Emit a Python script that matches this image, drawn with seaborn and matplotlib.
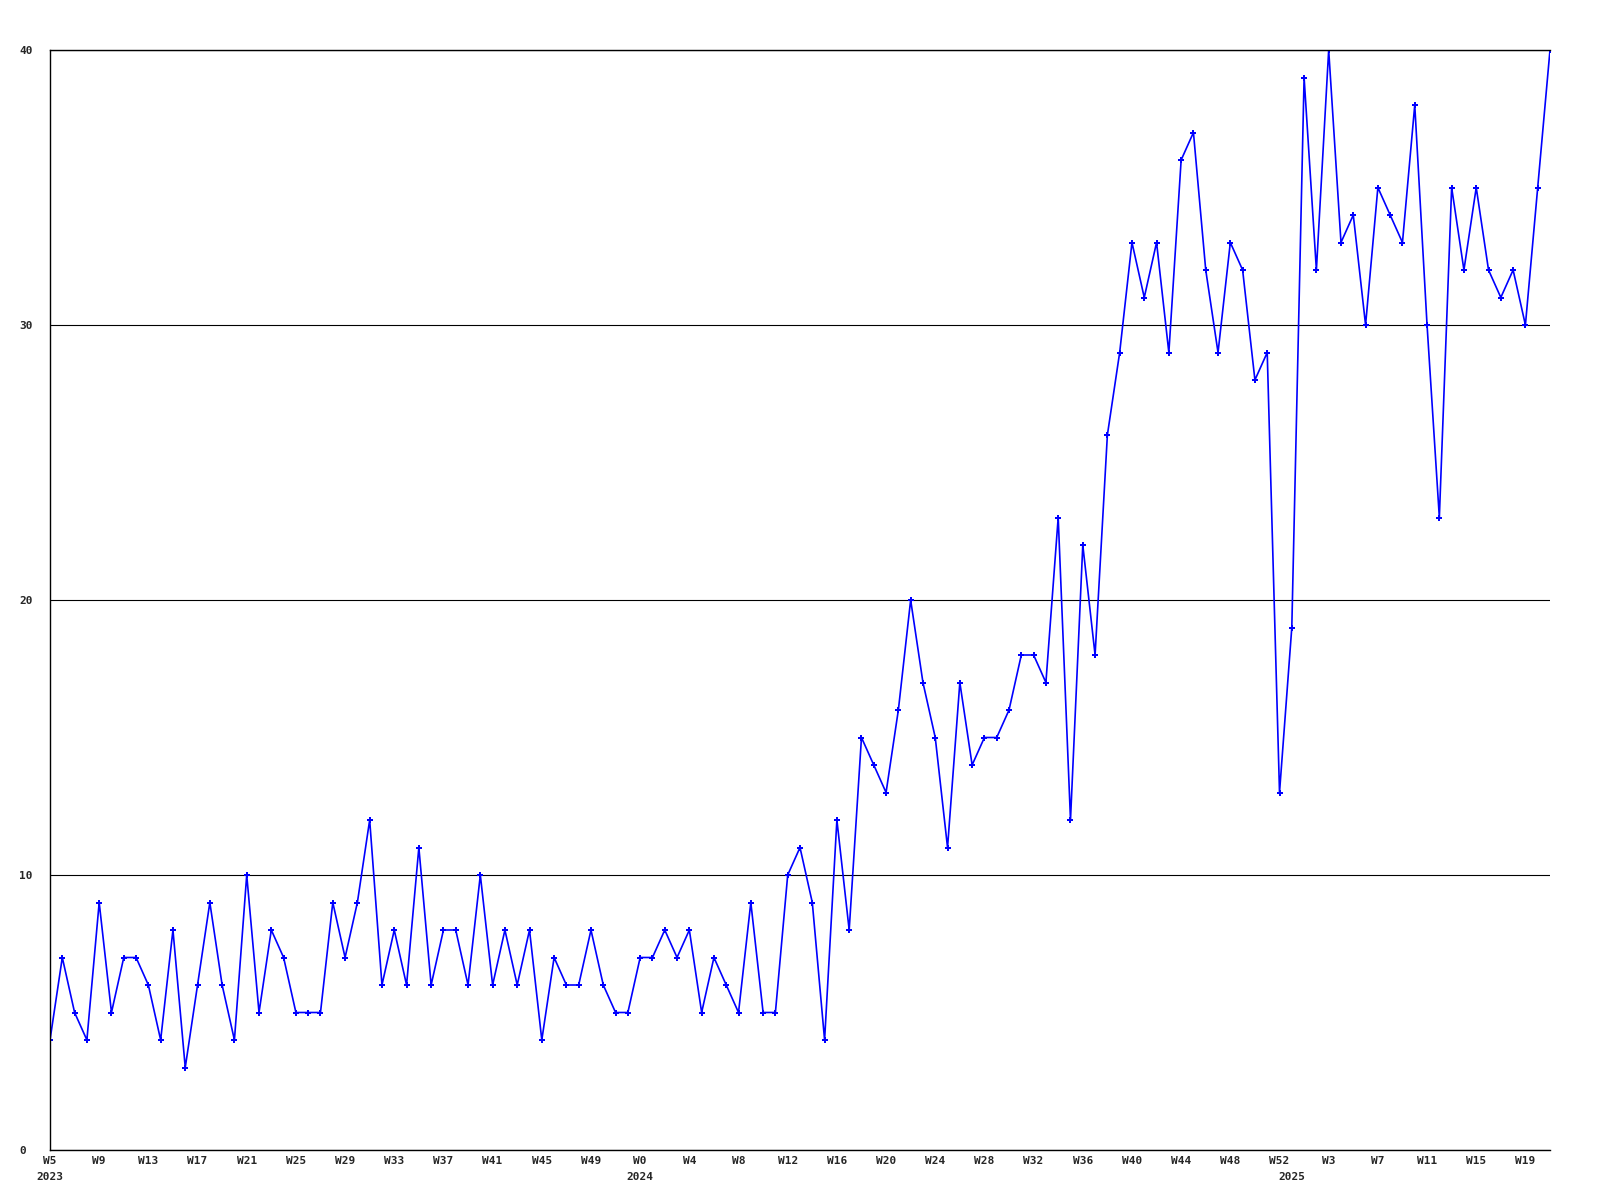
import pandas as pd
import seaborn as sns
import matplotlib.pyplot as plt

# Weekly counts
weeks_2023 = list(range(5, 53))
counts_2023 = [4, 7, 5, 4, 9, 5, 7, 7, 6, 4, 8, 3, 6, 9, 6, 4, 10, 5, 8, 7,
               5, 5, 5, 9, 7, 9, 12, 6, 8, 6, 11, 6, 8, 8, 6, 10, 6, 8, 6, 8,
               4, 7, 6, 6, 8, 6, 5, 5]

weeks_2024 = list(range(0, 53))
counts_2024 = [7, 7, 8, 7, 8, 5, 7, 6, 5, 9, 5, 5, 10, 11, 9, 4, 12, 8, 15, 14,
               13, 16, 20, 17, 15, 11, 17, 14, 15, 15, 16, 18, 18, 17, 23, 12, 22, 18, 26, 29,
               33, 31, 33, 29, 36, 37, 32, 29, 33, 32, 28, 29, 13]

weeks_2025 = list(range(0, 22))
counts_2025 = [19, 39, 32, 40, 33, 34, 30, 35, 34, 33, 38, 30, 23, 35, 32, 35, 32, 31, 32, 30,
               35, 40]

years = ["2023", "2024", "2025"]

rows = []
for year, weeks, counts in zip(years, [weeks_2023, weeks_2024, weeks_2025],
                               [counts_2023, counts_2024, counts_2025]):
    for w, c in zip(weeks, counts):
        rows.append({"year": year, "week": f"W{w}", "count": c})
df = pd.DataFrame(rows)
df["idx"] = range(len(df))

sns.set_style("white")
plt.rcParams["font.family"] = ["DejaVu Sans Mono"]
plt.rcParams["font.weight"] = "bold"

fig = plt.figure(figsize=(16, 12), dpi=100)
ax = fig.add_axes([50 / 1600, 50 / 1200, 1500 / 1600, 1100 / 1200])

sns.lineplot(data=df, x="idx", y="count", ax=ax, color="#0000ff", linewidth=1.2,
             marker="P", markersize=5, markeredgewidth=0, markerfacecolor="#0000ff")

ax.set_xlim(0, len(df) - 1)
ax.set_ylim(0, 40)
ax.set_xlabel("")
ax.set_ylabel("")

# y axis: gridlines every 10, labels left-aligned at the figure edge
ax.set_yticks([0, 10, 20, 30, 40])
ax.set_yticklabels(["0", "10", "20", "30", "40"], ha="left")
ax.tick_params(axis="y", length=0, pad=22, labelsize=8)
ax.grid(axis="y", color="black", linewidth=0.8)
ax.grid(axis="x", visible=False)

# x axis: week label every 4 points, year under first week of each year
major = df["idx"][::4]
ax.set_xticks(major)
ax.set_xticklabels(df["week"][::4])
first_of_year = df.groupby("year")["idx"].min()
ax.set_xticks(first_of_year.values, minor=True)
ax.set_xticklabels(first_of_year.index, minor=True)
ax.xaxis.remove_overlapping_locs = False
ax.tick_params(axis="x", which="major", length=0, pad=4, labelsize=8)
ax.tick_params(axis="x", which="minor", length=0, pad=16, labelsize=8)
for lab in ax.get_xticklabels(minor=True) + ax.get_xticklabels() + ax.get_yticklabels():
    lab.set_fontweight("bold")

for side in ["left", "bottom", "top"]:
    ax.spines[side].set_color("black")
    ax.spines[side].set_linewidth(1.0)
ax.spines["right"].set_visible(False)

plt.savefig("out.png", dpi=100)
plt.close()
